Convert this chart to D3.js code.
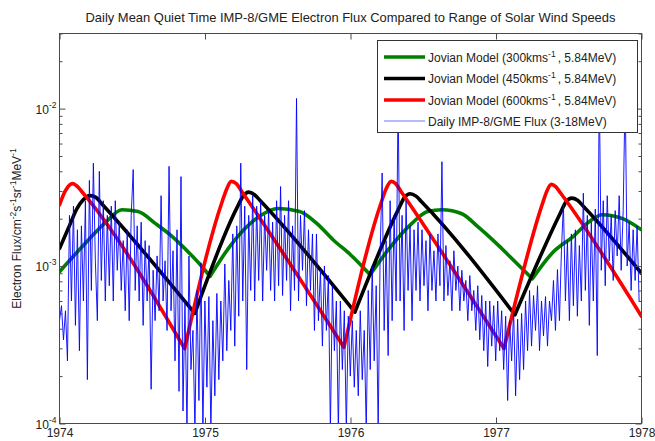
<!DOCTYPE html>
<html><head><meta charset="utf-8">
<script src="https://cdn.jsdelivr.net/npm/d3@7"></script>
<style>
body{margin:0;background:#fff;}
text{font-family:"Liberation Sans", Arial, Helvetica, sans-serif;fill:#222;}
</style></head><body>
<svg id="chart" width="655" height="441"></svg>
<script>
// ---------------- data ----------------
const titleText = "Daily Mean Quiet Time IMP-8/GME Electron Flux Compared to Range of Solar Wind Speeds";
const xTickYears = [1974, 1975, 1976, 1977, 1978];
const yMajorTicks = [1e-4, 1e-3, 1e-2];
const yDomain = [1e-4, 3e-2];

// Jovian model, 300 km/s
const model300Years = [1974.00, 1974.20, 1974.32, 1974.43, 1974.54, 1974.66, 1974.775, 1974.885, 1974.98, 1975.035,
  1975.17, 1975.31, 1975.43, 1975.50, 1975.65, 1975.77, 1975.88, 1976.00, 1976.135,
  1976.26, 1976.42, 1976.53, 1976.63, 1976.765, 1976.875, 1976.99, 1977.095, 1977.25,
  1977.39, 1977.53, 1977.64, 1977.73, 1977.87, 1978.00];
const model300Flux = [9.2e-4, 1.47e-3, 1.91e-3, 2.28e-3, 2.22e-3, 1.86e-3, 1.54e-3, 1.23e-3, 9.9e-4, 8.6e-4,
  1.33e-3, 1.86e-3, 2.22e-3, 2.32e-3, 2.22e-3, 1.86e-3, 1.47e-3, 1.18e-3, 8.8e-4,
  1.27e-3, 1.86e-3, 2.22e-3, 2.28e-3, 2.15e-3, 1.78e-3, 1.43e-3, 1.15e-3, 8.3e-4,
  1.22e-3, 1.54e-3, 1.91e-3, 2.12e-3, 2.00e-3, 1.70e-3];

// Jovian model, 450 km/s
const model450Years = [1974.00, 1974.06, 1974.12, 1974.16, 1974.21, 1974.25, 1974.29, 1974.93,
  1975.22, 1975.26, 1975.30, 1975.34, 1975.38, 1976.03,
  1976.33, 1976.37, 1976.41, 1976.45, 1976.49, 1977.13,
  1977.44, 1977.48, 1977.52, 1977.56, 1977.60, 1978.00];
const model450Flux = [1.29e-3, 1.73e-3, 2.32e-3, 2.62e-3, 2.80e-3, 2.73e-3, 2.49e-3, 5.0e-4,
  2.35e-3, 2.76e-3, 2.95e-3, 2.84e-3, 2.60e-3, 5.1e-4,
  2.30e-3, 2.72e-3, 2.88e-3, 2.78e-3, 2.55e-3, 4.9e-4,
  2.15e-3, 2.55e-3, 2.70e-3, 2.62e-3, 2.40e-3, 9.0e-4];

// Jovian model, 600 km/s
const model600Years = [1974.00, 1974.04, 1974.07, 1974.09, 1974.115, 1974.15, 1974.18, 1974.86,
  1975.12, 1975.15, 1975.18, 1975.215, 1975.25, 1975.955,
  1976.215, 1976.245, 1976.28, 1976.31, 1976.345, 1977.055,
  1977.32, 1977.35, 1977.38, 1977.41, 1977.445, 1978.00];
const model600Flux = [2.45e-3, 3.00e-3, 3.28e-3, 3.34e-3, 3.25e-3, 3.00e-3, 2.78e-3, 2.99e-4,
  2.60e-3, 3.10e-3, 3.45e-3, 3.34e-3, 3.00e-3, 3.05e-4,
  2.60e-3, 3.10e-3, 3.45e-3, 3.34e-3, 3.00e-3, 2.99e-4,
  2.50e-3, 3.00e-3, 3.30e-3, 3.20e-3, 2.90e-3, 4.8e-4];

// Daily IMP-8/GME flux (sampled every 5 days from 1974-01-01)
const fluxStartYear = 1974;
const fluxStepDays = 5;
const dailyFlux = [
 4.5e-4,5.6e-4,3.4e-4,5.2e-4,2.5e-4, 2.1e-3,6.0e-4,2.4e-3,4.2e-4,1.7e-3,
 2.9e-4,1.8e-3,6.0e-4,2.6e-3,1.9e-4,3.5e-3,7.0e-4,4.5e-3,1.08e-3,4.5e-4,
 4.0e-3,8.1e-4,2.6e-3,6.0e-4,2.1e-3,7.5e-4,2.4e-3,6.0e-4,2.6e-3,9.4e-4,
 1.9e-3,7.0e-4,1.45e-3,5.2e-4,1.7e-3,4.5e-4,2.1e-3,4.1e-3,7.0e-4,1.8e-3,
 6.0e-4,1.9e-3,4.2e-4,1.45e-3,6.0e-4,1.35e-3,1.65e-4,9.4e-4,4.5e-4,1.16e-3,
 5.2e-4,2.8e-3,6.0e-4,1.08e-3,3.9e-4,4.3e-3,5.2e-4,1.25e-3,2.5e-4,1.7e-3,
 1.6e-4,3.7e-3,1.2e-4,6.0e-4,9e-5,1.16e-3,2.2e-4,3.9e-4,9e-5,7.0e-4,
 1.4e-4,1.05e-3,9e-5,6.0e-4,1.7e-4,6.4e-4,9e-5,4.5e-4,1.5e-4,6.7e-4,
 1.9e-4,6.0e-4,2.5e-4,1.03e-3,2.9e-4,8.1e-4,3.9e-4,1.6e-3,3.1e-4,1.8e-3,
 4.8e-4,4.5e-3,6.0e-4,2.4e-3,2.2e-4,2.1e-3,7.0e-4,2.8e-3,6.0e-4,2.4e-3,
 8.1e-4,2.6e-3,6.0e-4,2.1e-3,9.4e-4,2.25e-3,7.0e-4,1.9e-3,6.0e-4,2.6e-3,
 7.5e-4,3.2e-3,6.5e-4,2.1e-3,8.1e-4,2.6e-3,5.2e-4,1.8e-3,7.0e-4,1.16e-2,
 6.0e-4,2.1e-3,9.4e-4,2.25e-3,5.6e-4,1.7e-3,7.0e-4,1.6e-3,3.9e-4,1.6e-3,
 4.5e-4,9.4e-4,3.1e-4,1.0e-3,3.9e-4,8.7e-4,9e-5,7.5e-4,2.9e-4,6.0e-4,
 9e-5,6.0e-4,2.2e-4,5.2e-4,9e-5,4.8e-4,2.0e-4,4.5e-4,1.7e-4,3.9e-4,
 1.5e-4,5.2e-4,1.9e-4,3.9e-4,9e-5,7.0e-4,2.2e-4,1.0e-3,2.5e-4,7.5e-4,
 9e-5,1.25e-3,3.9e-3,3.9e-4,1.45e-3,2.7e-4,2.6e-3,4.5e-4,2.1e-3,6.0e-4,
 1.2e-2,6.0e-4,2.1e-3,3.9e-4,2.6e-3,7.0e-4,1.8e-3,4.5e-4,1.7e-3,7.0e-4,
 1.9e-3,6.0e-4,1.7e-3,7.5e-4,1.45e-3,5.2e-4,1.6e-3,7.0e-4,1.25e-3,6.0e-4,
 1.6e-3,7.5e-4,4.6e-3,6.0e-4,1.35e-3,6.5e-4,1.08e-3,5.2e-4,1.25e-3,7.0e-4,
 1.0e-3,5.2e-4,9.4e-4,6.0e-4,8.1e-4,4.5e-4,8.7e-4,5.2e-4,7.0e-4,3.9e-4,
 7.5e-4,3.4e-4,6.5e-4,2.9e-4,6.0e-4,2.3e-4,6.0e-4,3.1e-4,5.6e-4,2.5e-4,
 6.0e-4,2.9e-4,5.2e-4,2.2e-4,4.8e-4,1.4e-4,4.5e-4,2.5e-4,5.2e-4,1.5e-4,
 4.6e-4,1.9e-4,5.0e-4,2.2e-4,6.0e-4,2.9e-4,7.0e-4,3.1e-4,6.5e-4,3.9e-4,
 7.5e-4,2.9e-4,6.0e-4,3.6e-4,6.4e-4,3.1e-4,6.0e-4,4.5e-4,8.1e-4,3.9e-4,
 9.5e-4,4.5e-4,1.25e-3,2.5e-3,6.0e-4,1.45e-3,4.5e-4,1.6e-3,5.6e-4,1.7e-3,
 4.8e-4,1.35e-3,6.0e-4,2.9e-3,7.0e-4,2.1e-3,4.2e-4,1.9e-3,6.0e-4,2.3e-3,
 2.7e-4,1.4e-2,9.4e-4,2.6e-3,7.5e-4,2.8e-3,1.08e-3,2.1e-3,8.1e-4,2.25e-3,
 1.16e-3,2.8e-3,9.4e-4,2.25e-3,1.3e-2,1.0e-3,1.9e-3,7.0e-4,1.7e-3,8.1e-4,
 1.8e-3,6.0e-4
];

const legendLabels = [
  {main: "Jovian Model (300kms", sup: "-1", tail: ", 5.84MeV)"},
  {main: "Jovian Model (450kms", sup: "-1", tail: ", 5.84MeV)"},
  {main: "Jovian Model (600kms", sup: "-1", tail: ", 5.84MeV)"},
  {main: "Daily IMP-8/GME Flux (3-18MeV)", sup: "", tail: ""}
];
const seriesColors = ["#008000", "#000000", "#ff0000", "#0000ff"];

// ---------------- chart ----------------
const svg = d3.select("#chart");
const m = {l: 59.5, r: 641.5, t: 33.5, b: 423.5};
const x = d3.scaleLinear().domain([1974, 1978]).range([m.l, m.r]);
const y = d3.scaleLog().domain(yDomain).range([m.b, m.t]);
const axisColor = "#4a4a4a";

svg.append("rect").attr("width", 655).attr("height", 441).attr("fill", "#fff");

svg.append("defs").append("clipPath").attr("id", "clip")
  .append("rect").attr("x", m.l).attr("y", m.t).attr("width", m.r - m.l).attr("height", m.b - m.t);

const plot = svg.append("g").attr("clip-path", "url(#clip)");

// split a model series at its local minima so cusps stay sharp
function segmentsOf(yrs, vals) {
  const pts = d3.zip(yrs, vals);
  const segs = []; let cur = [pts[0]];
  for (let i = 1; i < pts.length; i++) {
    cur.push(pts[i]);
    if (i < pts.length - 1 && vals[i] < vals[i - 1] && vals[i] < vals[i + 1]) {
      segs.push(cur); cur = [pts[i]];
    }
  }
  segs.push(cur);
  return segs;
}
const smooth = d3.line().x(d => x(d[0])).y(d => y(d[1])).curve(d3.curveMonotoneX);
const straight = d3.line().x(d => x(d[0])).y(d => y(d[1]));

const models = [
  {yrs: model300Years, vals: model300Flux, color: seriesColors[0]},
  {yrs: model450Years, vals: model450Flux, color: seriesColors[1]},
  {yrs: model600Years, vals: model600Flux, color: seriesColors[2]}
];
models.forEach(md => {
  const d = segmentsOf(md.yrs, md.vals).map(s => smooth(s)).join("");
  plot.append("path").attr("d", d).attr("fill", "none")
    .attr("stroke", md.color).attr("stroke-width", 3.6)
    .attr("stroke-linejoin", "round").attr("stroke-linecap", "round");
});

const fluxPts = dailyFlux.map((v, i) => [fluxStartYear + i * fluxStepDays / 365.25, v]);
plot.append("path").datum(fluxPts).attr("d", straight).attr("fill", "none")
  .attr("stroke", seriesColors[3]).attr("stroke-width", 1).attr("stroke-opacity", 0.9);

// ---------------- axes ----------------
const minorTicks = [];
yMajorTicks.forEach(dec => { for (let k = 2; k <= 9; k++) { const v = dec * k; if (v <= yDomain[1] * 1.0001) minorTicks.push(v); } });

const axG = svg.append("g");
function styleAxis(g) { g.select(".domain").remove(); g.selectAll("line").attr("stroke", axColorFix()); }
function axColorFix() { return axisColor; }

axG.append("g").attr("transform", `translate(0,${m.b})`)
  .call(d3.axisBottom(x).tickValues(xTickYears).tickFormat(d3.format("d")).tickSizeInner(-6).tickSizeOuter(0).tickPadding(5))
  .call(styleAxis)
  .call(g => g.selectAll("text").attr("font-size", "12px").attr("fill", "#222").attr("font-family", "Liberation Sans, Arial, sans-serif"));
axG.append("g").attr("transform", `translate(0,${m.t})`)
  .call(d3.axisTop(x).tickValues(xTickYears).tickFormat("").tickSizeInner(-6).tickSizeOuter(0))
  .call(styleAxis);

axG.append("g").attr("transform", `translate(${m.l},0)`)
  .call(d3.axisLeft(y).tickValues(minorTicks).tickFormat("").tickSizeInner(-3).tickSizeOuter(0)).call(styleAxis);
axG.append("g").attr("transform", `translate(${m.l},0)`)
  .call(d3.axisLeft(y).tickValues(yMajorTicks).tickFormat("").tickSizeInner(-6).tickSizeOuter(0)).call(styleAxis);
axG.append("g").attr("transform", `translate(${m.r},0)`)
  .call(d3.axisRight(y).tickValues(minorTicks).tickFormat("").tickSizeInner(-3).tickSizeOuter(0)).call(styleAxis);
axG.append("g").attr("transform", `translate(${m.r},0)`)
  .call(d3.axisRight(y).tickValues(yMajorTicks).tickFormat("").tickSizeInner(-6).tickSizeOuter(0)).call(styleAxis);

// y tick labels 10^n
yMajorTicks.forEach(v => {
  const t = svg.append("text").attr("x", m.l - 3).attr("y", y(v) + 5)
    .attr("text-anchor", "end").attr("font-size", "12px");
  t.append("tspan").text("10");
  t.append("tspan").attr("dy", -6).attr("font-size", "8.5px").text(String(Math.round(Math.log10(v))));
});

// frame
svg.append("rect").attr("x", m.l).attr("y", m.t).attr("width", m.r - m.l).attr("height", m.b - m.t)
  .attr("fill", "none").attr("stroke", axisColor).attr("stroke-width", 1);

// title
const title = svg.append("text").attr("x", (m.l + m.r) / 2).attr("y", 22)
  .attr("text-anchor", "middle").attr("font-size", "12px").text(titleText);
const tw = title.node().getComputedTextLength();
title.attr("font-size", (12 * 530 / tw).toFixed(2) + "px");

// y label
const yl = svg.append("text").attr("transform", `translate(21,${(m.t + m.b) / 2}) rotate(-90)`)
  .attr("text-anchor", "middle").attr("font-size", "12px");
const ylParts = [["Electron Flux/cm", 0], ["-2", 1], ["s", 0], ["-1", 1], ["sr", 0], ["-1", 1], ["MeV", 0], ["-1", 1]];
let prevSup = 0;
ylParts.forEach(([s, sup]) => {
  const ts = yl.append("tspan").text(s);
  if (sup && !prevSup) ts.attr("dy", -5).attr("font-size", "8.5px");
  if (!sup && prevSup) ts.attr("dy", 5);
  prevSup = sup;
});

// ---------------- legend ----------------
const lg = svg.append("g");
lg.append("rect").attr("x", 377.5).attr("y", 40.5).attr("width", 260).attr("height", 92)
  .attr("fill", "#fff").attr("stroke", "#333").attr("stroke-width", 1);
const rowY = [57, 78.5, 100, 121];
legendLabels.forEach((lab, i) => {
  const isData = i === 3;
  lg.append("line").attr("x1", 384).attr("x2", 425).attr("y1", rowY[i]).attr("y2", rowY[i])
    .attr("stroke", seriesColors[i]).attr("stroke-width", isData ? 1 : 3.6)
    .attr("stroke-opacity", isData ? 0.55 : 1);
  const t = lg.append("text").attr("x", 428).attr("y", rowY[i] + 4.5).attr("font-size", "12px");
  t.append("tspan").text(lab.main);
  if (lab.sup) {
    t.append("tspan").attr("dy", -5).attr("font-size", "8.5px").text(lab.sup);
    t.append("tspan").attr("dy", 5).attr("dx", 2).text(lab.tail);
  }
});
</script>
</body></html>
